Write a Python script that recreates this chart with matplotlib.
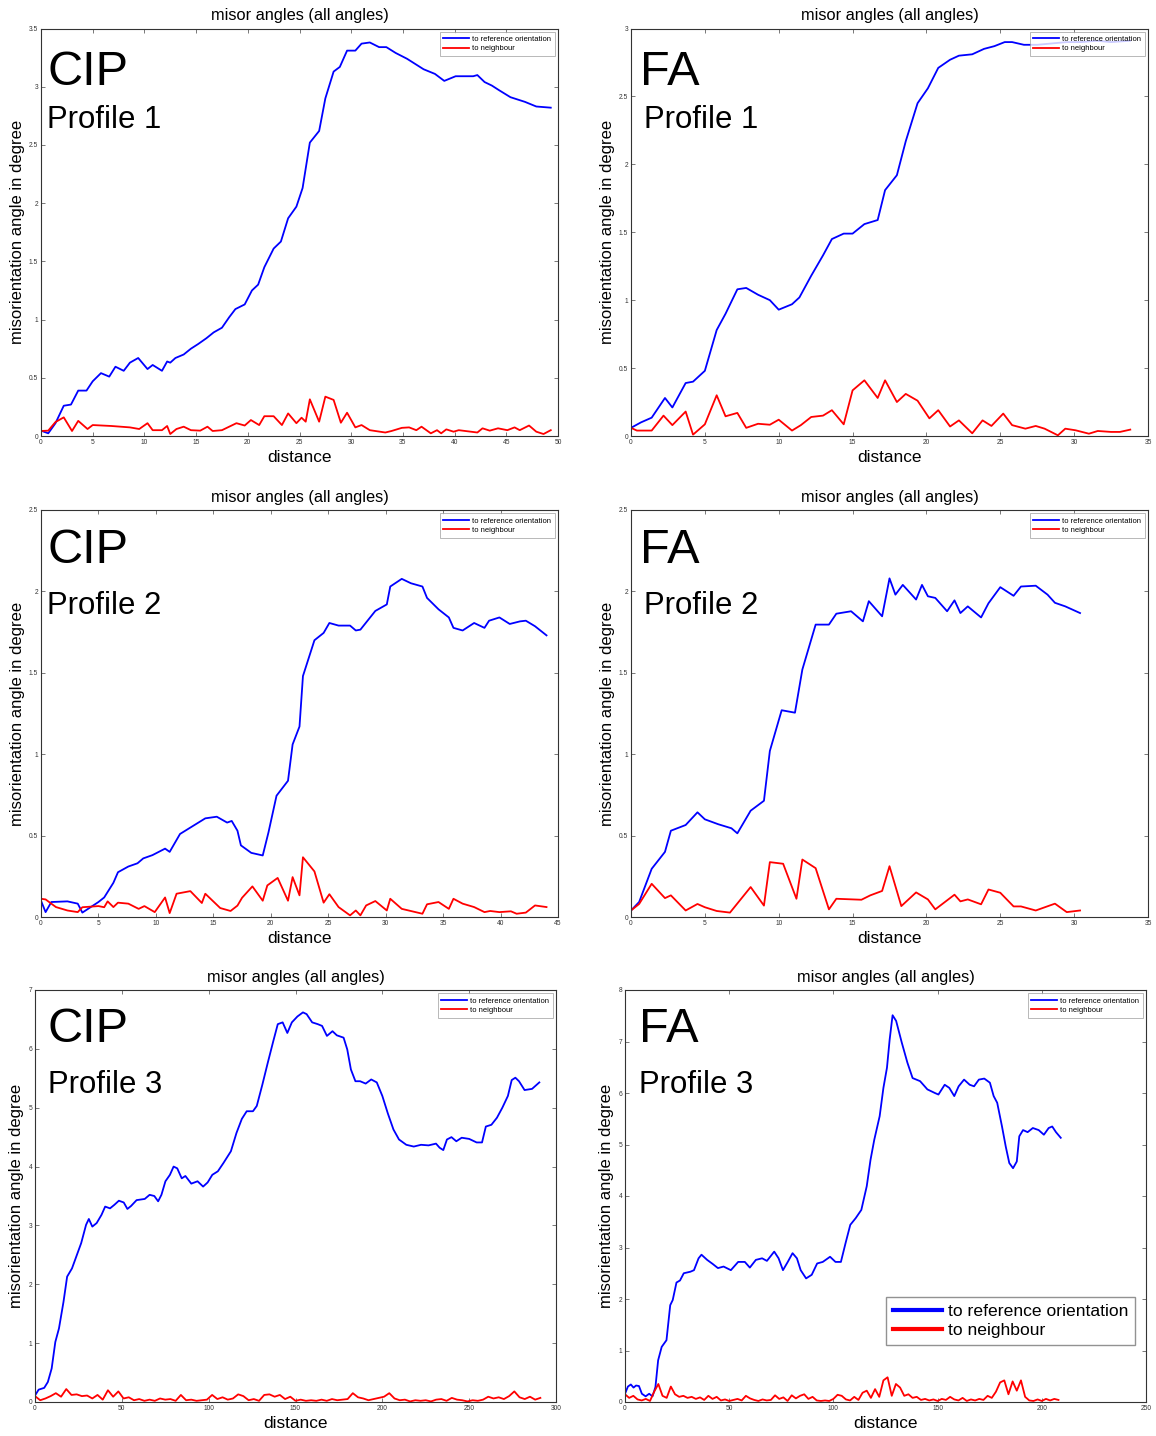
import numpy as np
import matplotlib.pyplot as plt
from matplotlib.ticker import FuncFormatter, MultipleLocator

plt.rcParams['font.family'] = ['Liberation Sans', 'DejaVu Sans']

# ---- CIP, profile 1
cip1_x = [0, 0.7, 1.4, 2.2, 2.9, 3.6, 4.4, 5.0, 5.8, 6.6, 7.2, 8.0, 8.6, 9.4, 10.3, 10.8, 11.7, 12.2,
          12.5, 13.0, 13.8, 14.5, 15.2, 16.0, 16.7, 17.5, 18.2, 18.8, 19.7, 20.4, 21.0, 21.6, 22.5,
          23.2, 23.9, 24.7, 25.3, 26.0, 26.9, 27.5, 28.3, 28.9, 29.6, 30.4, 31.0, 31.8, 32.7, 33.4,
          34.3, 35.4, 37.0, 38.1, 39.0, 40.1, 41.8, 42.2, 42.9, 43.6, 44.3, 45.4, 46.8, 47.9, 49.3]
cip1_ref = [0.046, 0.023, 0.11, 0.26, 0.27, 0.39, 0.39, 0.47, 0.54, 0.51, 0.595, 0.56, 0.63, 0.67,
            0.575, 0.61, 0.56, 0.64, 0.63, 0.67, 0.70, 0.75, 0.79, 0.84, 0.89, 0.93, 1.02, 1.09, 1.13,
            1.25, 1.30, 1.45, 1.61, 1.67, 1.87, 1.97, 2.13, 2.52, 2.62, 2.90, 3.13, 3.17, 3.31, 3.31,
            3.37, 3.38, 3.34, 3.34, 3.29, 3.24, 3.15, 3.11, 3.05, 3.09, 3.09, 3.10, 3.04, 3.01, 2.97,
            2.91, 2.87, 2.83, 2.82]
cip1_nb_x = [0, 0.7, 1.4, 2.2, 3.0, 3.6, 4.5, 5.0, 6.8, 8.6, 9.5, 10.3, 10.8, 11.7, 12.2, 12.5, 13.1,
             13.8, 14.5, 15.4, 16.1, 16.6, 17.5, 18.9, 19.7, 20.3, 21.1, 21.6, 22.5, 23.3, 23.9, 24.7,
             25.2, 25.6, 26.0, 26.9, 27.5, 28.3, 29.0, 29.6, 30.4, 31.0, 31.8, 33.3, 33.9, 34.9, 35.6,
             36.3, 36.8, 37.7, 38.3, 38.7, 39.2, 39.9, 40.4, 42.2, 42.7, 43.4, 44.2, 45.1, 45.8, 46.3,
             47.2, 47.9, 48.6, 49.3]
cip1_nb = [0.043, 0.046, 0.12, 0.16, 0.043, 0.13, 0.06, 0.094, 0.086, 0.074, 0.06, 0.11, 0.05, 0.05,
           0.086, 0.017, 0.06, 0.08, 0.05, 0.046, 0.08, 0.043, 0.05, 0.11, 0.09, 0.137, 0.094, 0.17,
           0.17, 0.094, 0.194, 0.11, 0.157, 0.123, 0.315, 0.123, 0.338, 0.31, 0.114, 0.2, 0.074, 0.094,
           0.05, 0.03, 0.043, 0.07, 0.074, 0.05, 0.08, 0.023, 0.05, 0.023, 0.057, 0.037, 0.05, 0.03,
           0.066, 0.046, 0.066, 0.05, 0.074, 0.05, 0.09, 0.037, 0.017, 0.05]

# ---- FA, profile 1
fa1_x = [0, 0.67, 1.4, 2.3, 2.8, 3.7, 4.2, 5.0, 5.8, 6.4, 7.2, 7.8, 8.6, 9.4, 10.0, 10.9, 11.4, 12.2,
         13.0, 13.6, 14.4, 15.0, 15.8, 16.7, 17.2, 18.0, 18.6, 19.4, 20.1, 20.8, 21.6, 22.2, 23.1,
         23.9, 24.6, 25.3, 25.8, 26.6, 27.5, 28.5, 29.5, 30.5, 31.5, 32.5, 33.8]
fa1_ref = [0.06, 0.10, 0.135, 0.28, 0.21, 0.39, 0.40, 0.48, 0.78, 0.90, 1.08, 1.09, 1.04, 1.00, 0.93,
           0.97, 1.02, 1.18, 1.33, 1.45, 1.49, 1.49, 1.56, 1.59, 1.81, 1.92, 2.17, 2.45, 2.56, 2.71,
           2.77, 2.80, 2.81, 2.85, 2.87, 2.90, 2.90, 2.88, 2.88, 2.89, 2.90, 2.90, 2.91, 2.90, 2.91]
fa1_nb_x = [0, 0.4, 1.4, 2.2, 2.8, 3.7, 4.2, 5.0, 5.8, 6.4, 7.2, 7.8, 8.6, 9.4, 10.0, 10.9, 11.5, 12.2,
            13.0, 13.6, 14.4, 15.0, 15.8, 16.7, 17.2, 18.0, 18.6, 19.4, 20.2, 20.8, 21.6, 22.2, 23.1,
            23.8, 24.4, 25.2, 25.8, 26.7, 27.4, 28.0, 28.9, 29.4, 30.1, 31.0, 31.6, 32.5, 33.1, 33.8]
fa1_nb = [0.06, 0.04, 0.04, 0.15, 0.08, 0.18, 0.01, 0.086, 0.30, 0.145, 0.17, 0.06, 0.09, 0.083, 0.12,
          0.04, 0.08, 0.14, 0.15, 0.19, 0.086, 0.336, 0.41, 0.28, 0.41, 0.25, 0.31, 0.26, 0.13, 0.19,
          0.07, 0.115, 0.02, 0.115, 0.074, 0.165, 0.08, 0.054, 0.074, 0.054, 0.005, 0.054, 0.042,
          0.017, 0.037, 0.03, 0.03, 0.047]

# ---- CIP, profile 2
cip2_x = [0, 0.4, 0.9, 2.3, 3.2, 3.6, 5.0, 5.5, 6.3, 6.7, 7.6, 8.4, 8.9, 9.7, 10.8, 11.2, 12.1, 12.9,
          14.3, 15.3, 16.2, 16.6, 17.1, 17.4, 18.3, 19.3, 19.8, 20.5, 21.5, 21.9, 22.5, 22.8, 23.8,
          24.6, 25.1, 25.9, 26.9, 27.4, 27.8, 29.1, 30.1, 30.4, 31.4, 32.2, 33.2, 33.6, 34.6, 35.5,
          35.9, 36.7, 37.7, 38.6, 39.0, 39.9, 40.8, 41.7, 42.2, 43.0, 44.0]
cip2_ref = [0.10, 0.03, 0.092, 0.096, 0.082, 0.027, 0.092, 0.12, 0.21, 0.275, 0.31, 0.33, 0.36, 0.38,
            0.42, 0.40, 0.51, 0.545, 0.606, 0.616, 0.58, 0.59, 0.53, 0.44, 0.394, 0.378, 0.52, 0.745,
            0.837, 1.06, 1.17, 1.48, 1.70, 1.745, 1.806, 1.79, 1.79, 1.76, 1.765, 1.88, 1.92, 2.03,
            2.077, 2.05, 2.03, 1.96, 1.89, 1.84, 1.776, 1.76, 1.806, 1.776, 1.82, 1.84, 1.80, 1.816,
            1.82, 1.786, 1.73]
cip2_nb_x = [0, 0.4, 1.3, 2.3, 3.2, 3.6, 5.0, 5.5, 5.8, 6.3, 6.7, 7.6, 8.5, 9.0, 9.9, 10.8, 11.2,
             11.8, 13.0, 14.0, 14.3, 15.6, 16.5, 17.1, 17.5, 18.4, 19.3, 19.7, 20.6, 21.5, 21.9, 22.5,
             22.8, 23.8, 24.6, 25.1, 25.9, 26.9, 27.4, 27.8, 28.3, 29.1, 30.1, 30.4, 31.4, 33.2, 33.6,
             34.6, 35.5, 35.9, 36.7, 37.7, 38.6, 39.1, 39.9, 40.9, 41.4, 42.2, 43.0, 44.0]
cip2_nb = [0.112, 0.108, 0.061, 0.04, 0.03, 0.06, 0.067, 0.06, 0.096, 0.061, 0.088, 0.082, 0.05,
           0.067, 0.03, 0.12, 0.024, 0.143, 0.159, 0.086, 0.143, 0.055, 0.037, 0.07, 0.118, 0.188,
           0.10, 0.194, 0.24, 0.10, 0.245, 0.133, 0.367, 0.28, 0.088, 0.14, 0.061, 0.01, 0.04, 0.01,
           0.071, 0.098, 0.04, 0.112, 0.05, 0.02, 0.078, 0.092, 0.05, 0.112, 0.082, 0.061, 0.03,
           0.037, 0.03, 0.035, 0.02, 0.027, 0.071, 0.061]

# ---- FA, profile 2
fa2_x = [0, 0.55, 1.4, 2.3, 2.7, 3.7, 4.5, 5.0, 5.9, 6.8, 7.2, 8.1, 9.0, 9.4, 10.2, 11.1, 11.6, 12.5,
         13.4, 13.9, 14.9, 15.7, 16.1, 17.0, 17.5, 17.9, 18.4, 19.3, 19.7, 20.1, 20.6, 21.4, 21.9,
         22.3, 22.8, 23.7, 24.2, 25.0, 25.9, 26.4, 27.4, 28.2, 28.7, 29.4, 30.4]
fa2_ref = [0.04, 0.092, 0.296, 0.40, 0.53, 0.565, 0.643, 0.60, 0.57, 0.545, 0.514, 0.653, 0.714, 1.02,
           1.27, 1.255, 1.52, 1.796, 1.796, 1.863, 1.878, 1.816, 1.94, 1.847, 2.08, 1.98, 2.04, 1.95,
           2.04, 1.97, 1.96, 1.878, 1.945, 1.867, 1.908, 1.84, 1.927, 2.026, 1.973, 2.03, 2.035, 1.98,
           1.93, 1.908, 1.867]
fa2_nb_x = [0, 0.55, 1.4, 2.3, 2.7, 3.7, 4.5, 5.0, 5.8, 6.7, 8.1, 9.0, 9.4, 10.3, 11.2, 11.6, 12.5,
            13.4, 13.9, 15.6, 16.2, 17.0, 17.5, 18.3, 19.3, 20.1, 20.6, 21.9, 22.3, 22.8, 23.7, 24.2,
            25.0, 25.9, 26.4, 27.4, 28.7, 29.5, 30.4]
fa2_nb = [0.04, 0.08, 0.204, 0.116, 0.133, 0.04, 0.08, 0.06, 0.037, 0.027, 0.184, 0.07, 0.337, 0.327,
          0.112, 0.353, 0.30, 0.047, 0.112, 0.106, 0.133, 0.16, 0.312, 0.067, 0.151, 0.108, 0.047,
          0.137, 0.096, 0.108, 0.078, 0.169, 0.149, 0.065, 0.065, 0.04, 0.082, 0.03, 0.04]

# ---- CIP, profile 3
cip3_x = [0, 2.1, 5.3, 7.4, 9.6, 11.7, 13.8, 16.4, 18.5, 21.3, 24.5, 26.6, 29.4, 31.0, 33.0, 35.5,
          38.3, 40.4, 43.2, 45.7, 48.3, 51.1, 53.2, 55.3, 58.5, 63.2, 66.0, 68.7, 70.9, 72.8, 75.1,
          77.7, 79.8, 81.9, 84.5, 86.6, 90.0, 93.6, 96.8, 99.4, 102.1, 105.3, 108.5, 112.8, 116.0,
          119.1, 121.9, 125.5, 127.7, 130.9, 134.0, 137.2, 139.8, 142.6, 145.3, 147.9, 151.1, 154.3,
          156.4, 159.6, 162.8, 165.3, 168.1, 171.3, 173.8, 177.7, 179.8, 181.9, 184.5, 187.2, 190.4,
          193.6, 196.8, 200.0, 203.2, 206.4, 209.6, 213.8, 218.1, 222.3, 226.6, 230.9, 233.0, 235.1,
          237.2, 239.8, 242.6, 245.7, 250.0, 254.3, 257.4, 259.6, 262.8, 266.0, 269.1, 272.3, 274.5,
          276.6, 278.7, 281.9, 286.2, 290.4]
cip3_ref = [0.11, 0.21, 0.24, 0.34, 0.57, 1.02, 1.25, 1.70, 2.13, 2.27, 2.53, 2.70, 3.01, 3.11, 2.98,
            3.04, 3.18, 3.32, 3.29, 3.35, 3.42, 3.39, 3.28, 3.33, 3.43, 3.45, 3.52, 3.50, 3.41, 3.52,
            3.75, 3.86, 4.00, 3.97, 3.80, 3.84, 3.71, 3.75, 3.66, 3.73, 3.86, 3.92, 4.06, 4.26, 4.57,
            4.81, 4.94, 4.94, 5.03, 5.39, 5.76, 6.13, 6.42, 6.45, 6.27, 6.45, 6.55, 6.62, 6.59, 6.45,
            6.42, 6.39, 6.22, 6.30, 6.23, 6.19, 5.99, 5.65, 5.45, 5.45, 5.41, 5.48, 5.43, 5.20, 4.90,
            4.63, 4.46, 4.37, 4.34, 4.37, 4.36, 4.39, 4.32, 4.28, 4.46, 4.50, 4.43, 4.49, 4.47, 4.41,
            4.41, 4.68, 4.71, 4.83, 5.00, 5.20, 5.47, 5.51, 5.45, 5.30, 5.32, 5.43]
cip3_nb = [0.10, 0.03, 0.06, 0.10, 0.15, 0.09, 0.22, 0.12, 0.13, 0.10, 0.11, 0.06, 0.12, 0.04, 0.20,
           0.09, 0.18, 0.06, 0.08, 0.03, 0.05, 0.02, 0.04, 0.02, 0.06, 0.04, 0.05, 0.02, 0.12, 0.03,
           0.04, 0.02, 0.03, 0.04, 0.12, 0.05, 0.08, 0.04, 0.06, 0.13, 0.10, 0.03, 0.05, 0.02, 0.12,
           0.13, 0.09, 0.12, 0.05, 0.09, 0.02, 0.04, 0.02, 0.03, 0.02, 0.04, 0.02, 0.05, 0.03, 0.04,
           0.05, 0.15, 0.08, 0.06, 0.03, 0.05, 0.07, 0.09, 0.15, 0.06, 0.03, 0.04, 0.01, 0.03, 0.02,
           0.03, 0.01, 0.04, 0.05, 0.02, 0.07, 0.04, 0.03, 0.01, 0.03, 0.02, 0.04, 0.09, 0.06, 0.08,
           0.05, 0.10, 0.18, 0.08, 0.05, 0.09, 0.04, 0.07]

# ---- FA, profile 3
fa3_x = [0, 1.4, 2.8, 4.1, 5.3, 6.7, 8.1, 9.9, 11.6, 13.2, 14.6, 15.9, 17.6, 19.9, 21.7, 22.9, 24.7,
         26.4, 28.2, 31.4, 33.1, 35.3, 36.7, 39.4, 42.1, 44.6, 47.3, 50.8, 54.3, 57.5, 59.9, 62.8,
         65.8, 68.1, 71.6, 73.7, 75.8, 78.1, 80.4, 82.5, 84.3, 86.9, 89.6, 92.2, 94.9, 98.4, 101.0,
         103.6, 105.8, 108.1, 110.7, 113.4, 116.0, 117.8, 119.6, 122.2, 124.0, 125.7, 127.0, 128.4,
         130.1, 132.8, 135.5, 138.0, 141.6, 145.1, 148.7, 150.4, 153.4, 155.6, 158.0, 160.1, 162.7,
         165.4, 167.5, 169.8, 172.4, 175.1, 176.9, 178.6, 180.9, 182.7, 184.4, 186.2, 188.0, 189.2,
         191.0, 193.2, 195.7, 198.5, 201.0, 203.3, 205.0, 206.8, 209.1]
fa3_ref = [0.16, 0.30, 0.34, 0.28, 0.32, 0.31, 0.16, 0.11, 0.16, 0.11, 0.29, 0.81, 1.07, 1.20, 1.88,
           1.98, 2.32, 2.36, 2.50, 2.53, 2.56, 2.79, 2.86, 2.76, 2.68, 2.60, 2.63, 2.56, 2.72, 2.72,
           2.61, 2.76, 2.79, 2.74, 2.92, 2.79, 2.56, 2.72, 2.89, 2.79, 2.56, 2.40, 2.47, 2.69, 2.72,
           2.82, 2.72, 2.72, 3.08, 3.44, 3.57, 3.73, 4.19, 4.70, 5.09, 5.55, 6.10, 6.49, 7.04, 7.51,
           7.40, 6.98, 6.59, 6.29, 6.23, 6.07, 6.00, 5.97, 6.16, 6.10, 5.94, 6.13, 6.26, 6.16, 6.13,
           6.26, 6.28, 6.20, 5.94, 5.81, 5.35, 4.96, 4.64, 4.54, 4.67, 5.16, 5.28, 5.24, 5.32, 5.28,
           5.19, 5.32, 5.35, 5.24, 5.13]
fa3_nb_x = [0, 2, 4, 6, 8, 10, 12, 14, 16, 18, 20, 22, 24, 26, 28, 30, 32, 34, 36, 38, 40, 42, 44, 46,
            48, 50, 52, 54, 56, 58, 60, 62, 64, 66, 68, 70, 72, 74, 76, 78, 80, 82, 84, 86, 88, 90,
            92, 94, 96, 98, 100, 102, 104, 106, 108, 110, 112, 114, 116, 118, 120, 122, 124, 126,
            128, 130, 132, 134, 136, 138, 140, 142, 144, 146, 148, 150, 152, 154, 156, 158, 160, 162,
            164, 166, 168, 170, 172, 174, 176, 178, 180, 182, 184, 186, 188, 190, 192, 194, 196, 198,
            200, 202, 204, 206, 208]
fa3_nb = [0.15, 0.08, 0.12, 0.05, 0.03, 0.06, 0.02, 0.20, 0.35, 0.12, 0.08, 0.30, 0.15, 0.10, 0.12,
          0.08, 0.10, 0.06, 0.09, 0.04, 0.12, 0.06, 0.10, 0.03, 0.05, 0.02, 0.04, 0.06, 0.03, 0.12,
          0.07, 0.04, 0.02, 0.05, 0.03, 0.04, 0.13, 0.06, 0.09, 0.02, 0.13, 0.07, 0.12, 0.15, 0.06,
          0.10, 0.03, 0.02, 0.03, 0.02, 0.06, 0.14, 0.12, 0.05, 0.03, 0.10, 0.04, 0.18, 0.22, 0.08,
          0.25, 0.10, 0.42, 0.48, 0.12, 0.35, 0.28, 0.12, 0.15, 0.08, 0.10, 0.04, 0.06, 0.03, 0.05,
          0.02, 0.06, 0.04, 0.10, 0.05, 0.03, 0.08, 0.02, 0.05, 0.03, 0.06, 0.04, 0.12, 0.08, 0.20,
          0.38, 0.42, 0.15, 0.40, 0.22, 0.42, 0.10, 0.03, 0.02, 0.05, 0.02, 0.06, 0.03, 0.06, 0.04]

cip3_nb_x = list(np.linspace(0, 291, len(cip3_nb)))

fig = plt.figure(figsize=(11.56, 14.36), dpi=100)
W, H = 1156, 1436

def add_panel(box, method, profile, x_ref, y_ref, x_nb, y_nb, xmax, xstep, ymax, ystep, txt_x, txt_y):
    l, t, r, b = box
    ax = fig.add_axes([l / W, 1 - b / H, (r - l) / W, (b - t) / H])
    ax.plot(x_ref, y_ref, color='#0000ff', lw=1.3, label='to reference orientation')
    ax.plot(x_nb, y_nb, color='#ff0000', lw=1.3, label='to neighbour')
    ax.set_xlim(0, xmax)
    ax.set_ylim(0, ymax)
    ax.xaxis.set_major_locator(MultipleLocator(xstep))
    ax.yaxis.set_major_locator(MultipleLocator(ystep))
    fmt = FuncFormatter(lambda v, p: '%g' % v)
    ax.xaxis.set_major_formatter(fmt)
    ax.yaxis.set_major_formatter(fmt)
    ax.tick_params(direction='in', top=True, right=True, length=3, width=0.5,
                   labelsize=4.8, labelcolor='#333333', pad=2, color='#444444')
    for s in ax.spines.values():
        s.set_linewidth(0.8)
        s.set_color('#333333')
    ax.set_title('misor angles (all angles)', fontsize=11.8, pad=6)
    ax.set_xlabel('distance', fontsize=12.4, labelpad=3)
    ax.set_ylabel('misorientation angle in degree', fontsize=12, labelpad=3)
    ax.text(txt_x[0], txt_y[0], method, transform=ax.transAxes, fontsize=35, va='baseline')
    ax.text(txt_x[1], txt_y[1], profile, transform=ax.transAxes, fontsize=22.4, va='baseline')
    leg = ax.legend(loc='upper right', fontsize=5.5, frameon=True, fancybox=False,
                    borderaxespad=0.45, handlelength=3.4, handletextpad=0.3,
                    borderpad=0.5, labelspacing=0.25)
    leg.get_frame().set_edgecolor('#999999')
    leg.get_frame().set_linewidth(0.6)
    return ax

add_panel((41, 28.5, 558, 436), 'CIP', 'Profile 1', cip1_x, cip1_ref, cip1_nb_x, cip1_nb,
          50, 5, 3.5, 0.5, (0.012, 0.012), (0.862, 0.757))
add_panel((631, 28.5, 1148, 436), 'FA', 'Profile 1', fa1_x, fa1_ref, fa1_nb_x, fa1_nb,
          35, 5, 3, 0.5, (0.017, 0.025), (0.862, 0.757))
add_panel((41, 510, 558, 917), 'CIP', 'Profile 2', cip2_x, cip2_ref, cip2_nb_x, cip2_nb,
          45, 5, 2.5, 0.5, (0.012, 0.012), (0.870, 0.744))
add_panel((631, 510, 1148, 917), 'FA', 'Profile 2', fa2_x, fa2_ref, fa2_nb_x, fa2_nb,
          35, 5, 2.5, 0.5, (0.017, 0.025), (0.870, 0.744))
add_panel((35, 990, 556, 1402), 'CIP', 'Profile 3', cip3_x, cip3_ref, cip3_nb_x, cip3_nb,
          300, 50, 7, 1, (0.024, 0.024), (0.873, 0.749))
ax6 = add_panel((625, 990, 1146, 1402), 'FA', 'Profile 3', fa3_x, fa3_ref, fa3_nb_x, fa3_nb,
                250, 50, 8, 1, (0.027, 0.027), (0.873, 0.749))

# second, larger legend inside the last panel
small = ax6.get_legend()
handles, labels = ax6.get_legend_handles_labels()
big = ax6.legend(handles, labels, loc='upper right', bbox_to_anchor=(0.979, 0.2555),
                 borderaxespad=0, fontsize=12.6, frameon=True, fancybox=False, handlelength=2.8,
                 handletextpad=0.35, borderpad=0.4, labelspacing=0.2)
for h in big.get_lines():
    h.set_linewidth(3)
big.get_frame().set_edgecolor('#777777')
big.get_frame().set_linewidth(1.0)
ax6.add_artist(small)

fig.savefig('out.png', dpi=100)
